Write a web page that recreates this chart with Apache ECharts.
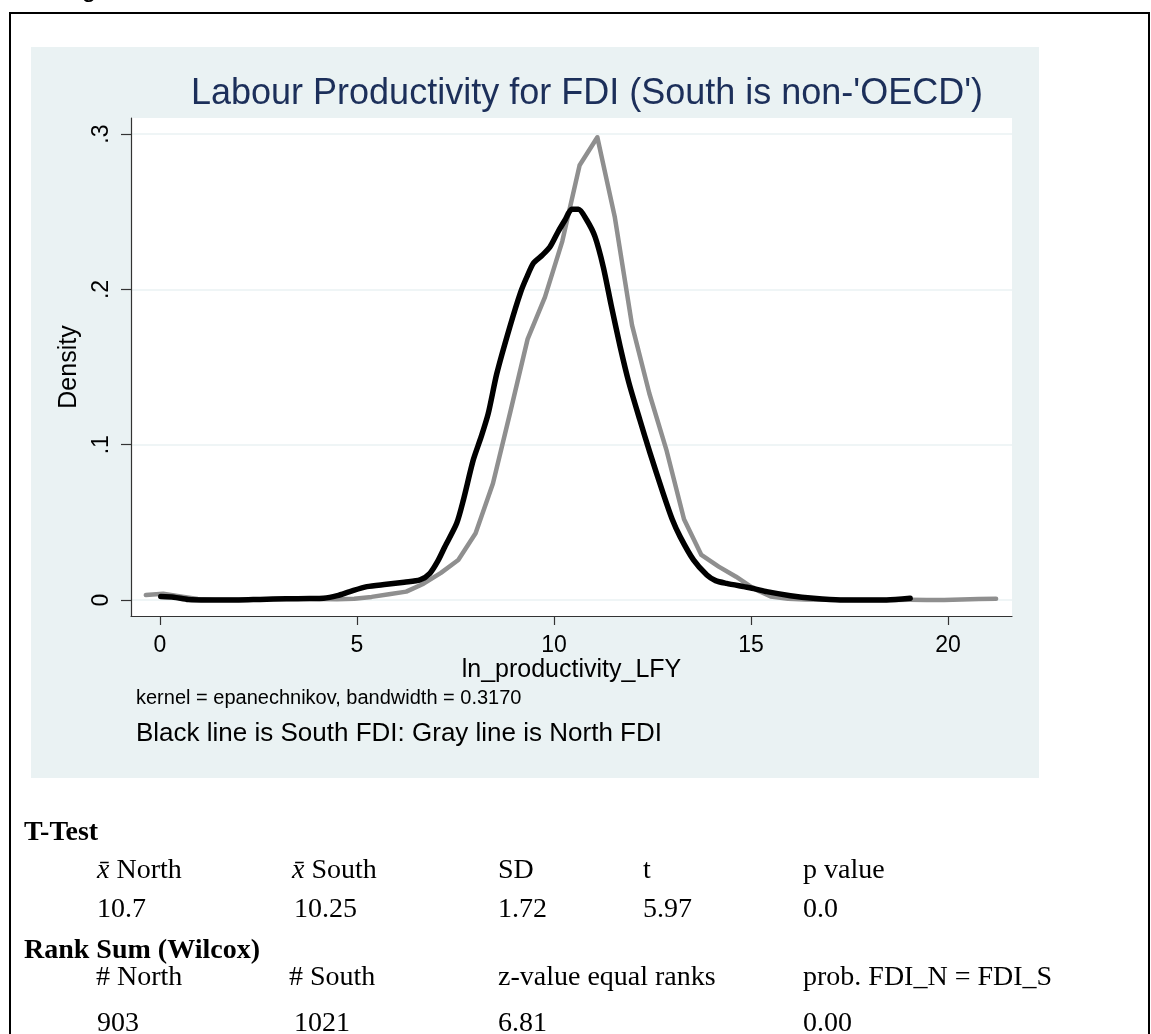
<!DOCTYPE html>
<html><head><meta charset="utf-8">
<style>html,body{margin:0;padding:0;background:#fff;}#c{width:1151px;height:1034px;}</style>
<script src="https://cdn.jsdelivr.net/npm/echarts@6/dist/echarts.min.js"></script>
</head><body><div id="c"></div>
<script>
// ---- data ----
var xTicks = [0, 5, 10, 15, 20];
var yTicks = [0, 0.1, 0.2, 0.3];
var yTickLabels = ['0', '.1', '.2', '.3'];

// Gray line: North FDI
var northX = [-0.36,0.08,0.52,0.96,1.40,1.84,2.28,2.72,3.16,3.60,4.05,4.49,4.93,5.37,5.81,6.25,6.69,7.13,7.57,8.01,8.45,8.89,9.33,9.77,10.21,10.65,11.10,11.54,11.98,12.42,12.86,13.30,13.74,14.18,14.62,15.06,15.50,15.94,16.38,16.82,17.26,17.70,18.14,18.58,19.02,19.46,19.90,20.34,20.78,21.22];
var northD = [0.0032,0.0040,0.0022,0.0006,0.0002,0.0001,0.0002,0.0005,0.0007,0.0008,0.0007,0.0005,0.0008,0.0020,0.0037,0.0054,0.0105,0.0175,0.0258,0.0430,0.0750,0.1210,0.1680,0.1950,0.2310,0.2800,0.2980,0.2470,0.1770,0.1330,0.0960,0.0520,0.0290,0.0215,0.0150,0.0075,0.0022,0.0008,0.0004,0.0002,0.0001,0.0000,0.0000,0.0000,0.0001,0.0000,0.0000,0.0003,0.0007,0.0008];

// Black line: South FDI
var southX = [0.02,0.35,0.72,1.2,2.0,2.54,3.2,3.8,4.15,4.5,4.82,5.25,5.75,6.2,6.6,6.85,7.05,7.23,7.53,7.70,7.95,8.15,8.33,8.55,8.88,9.15,9.31,9.48,9.7,9.9,10.1,10.28,10.45,10.62,10.83,11.04,11.25,11.45,11.68,11.9,12.18,12.44,12.77,13.0,13.2,13.54,13.88,14.1,14.38,14.81,15.1,15.4,16.0,16.58,17.26,18.44,19.04];
var southD = [0.0022,0.0018,0.0003,0.0,0.0,0.0004,0.0008,0.0009,0.0011,0.0028,0.0054,0.0086,0.0101,0.0115,0.0129,0.0172,0.025,0.0343,0.0494,0.0644,0.0901,0.105,0.12,0.146,0.176,0.198,0.208,0.217,0.222,0.2275,0.237,0.2447,0.2516,0.2516,0.2447,0.234,0.2146,0.19,0.163,0.14,0.1159,0.0944,0.0687,0.052,0.0408,0.0258,0.0161,0.0125,0.0107,0.0086,0.0072,0.0054,0.0028,0.0011,0.0,0.0,0.0011];

function zip(a, b) { var r = []; for (var i = 0; i < a.length; i++) r.push([a[i], b[i]]); return r; }

var SANS = "'Liberation Sans', Arial, Helvetica, sans-serif";
var SERIF = "'Liberation Serif', 'Times New Roman', serif";

function txt(x, y, text, size, opts) {
  opts = opts || {};
  return {
    type: 'text', x: x, y: y, z: 50, silent: true,
    style: {
      text: text, fontSize: size, fontFamily: opts.family || SANS,
      fontWeight: opts.weight || 'normal', fill: opts.color || '#000',
      align: opts.align || 'left', verticalAlign: 'middle',
      textAlign: opts.align || 'left', textVerticalAlign: 'middle',
      rich: opts.rich
    }
  };
}

var richI = { i: { fontStyle: 'italic', fontFamily: SERIF, fontSize: 28 } };
var c1 = 97, c2 = 292, c3 = 498, c4 = 643, c5 = 803;

var chart = echarts.init(document.getElementById('c'), null, { renderer: 'canvas' });
chart.setOption({
  animation: false,
  backgroundColor: '#ffffff',
  graphic: { elements: [
    { type: 'rect', z: -100, silent: true, shape: { x: 31, y: 47, width: 1008, height: 731 }, style: { fill: '#eaf2f3' } },
    { type: 'rect', z: 60, silent: true, shape: { x: 10, y: 13, width: 1139, height: 1040 }, style: { fill: null, stroke: '#000', lineWidth: 2 } },
    txt(60, -10.5, 'Figure', 26),
    txt(587, 94.5, "Labour Productivity for FDI (South is non-'OECD')", 36, { align: 'center', color: '#1c2f5a' }),
    txt(136, 698, 'kernel = epanechnikov, bandwidth = 0.3170', 20),
    txt(136, 734, 'Black line is South FDI: Gray line is North FDI', 26),
    txt(24, 832.5, 'T-Test', 28, { family: SERIF, weight: 'bold' }),
    txt(c1, 870.5, '{i|x\u0304} North', 28, { family: SERIF, rich: richI }),
    txt(c2, 870.5, '{i|x\u0304} South', 28, { family: SERIF, rich: richI }),
    txt(c3, 870.5, 'SD', 28, { family: SERIF }),
    txt(c4, 870.5, 't', 28, { family: SERIF }),
    txt(c5, 870.5, 'p value', 28, { family: SERIF }),
    txt(c1, 909.5, '10.7', 28, { family: SERIF }),
    txt(c2 + 2, 909.5, '10.25', 28, { family: SERIF }),
    txt(c3, 909.5, '1.72', 28, { family: SERIF }),
    txt(c4, 909.5, '5.97', 28, { family: SERIF }),
    txt(c5, 909.5, '0.0', 28, { family: SERIF }),
    txt(24, 950.5, 'Rank Sum (Wilcox)', 28, { family: SERIF, weight: 'bold' }),
    txt(c1 - 1, 977.5, '# North', 28, { family: SERIF }),
    txt(c2 - 3, 977.5, '# South', 28, { family: SERIF }),
    txt(c3, 977.5, 'z-value equal ranks', 28, { family: SERIF }),
    txt(c5, 977.5, 'prob. FDI_N = FDI_S', 28, { family: SERIF }),
    txt(c1, 1023.5, '903', 28, { family: SERIF }),
    txt(c2 + 2, 1023.5, '1021', 28, { family: SERIF }),
    txt(c3, 1023.5, '6.81', 28, { family: SERIF }),
    txt(c5, 1023.5, '0.00', 28, { family: SERIF })
  ]},
  grid: { left: 131, right: 139, top: 118, bottom: 418, show: true, backgroundColor: '#ffffff', borderWidth: 0 },
  xAxis: {
    type: 'value', min: -0.736, max: 21.624,
    name: 'ln_productivity_LFY', nameLocation: 'middle', nameGap: 41,
    nameTextStyle: { fontSize: 25, color: '#000', fontFamily: SANS },
    axisLine: { show: true, onZero: false, lineStyle: { color: '#333', width: 1.2 } },
    axisTick: { show: true, length: 9, customValues: xTicks, lineStyle: { color: '#333', width: 1.2 } },
    axisLabel: { customValues: xTicks, fontSize: 23, color: '#000', margin: 18, fontFamily: SANS },
    splitLine: { show: false }
  },
  yAxis: {
    type: 'value', min: -0.0103, max: 0.3104,
    name: 'Density', nameLocation: 'middle', nameGap: 40,
    nameTextStyle: { fontSize: 25, color: '#000', fontFamily: SANS },
    axisLine: { show: true, onZero: false, lineStyle: { color: '#333', width: 1.2 } },
    axisTick: { show: true, length: 10, customValues: yTicks, lineStyle: { color: '#333', width: 1.2 } },
    axisLabel: {
      customValues: yTicks, rotate: 90, fontSize: 23, color: '#000', margin: 18, fontFamily: SANS,
      formatter: function (v) { var i = yTicks.indexOf(Math.round(v * 10) / 10); return i >= 0 ? yTickLabels[i] : ''; }
    },
    splitLine: { show: true, lineStyle: { color: '#eaf2f3', width: 1.5 } }
  },
  series: [
    { name: 'North FDI', type: 'line', data: zip(northX, northD), showSymbol: false, smooth: false, clip: true,
      lineStyle: { color: '#8f8f8f', width: 4.5, cap: 'round', join: 'round' }, z: 2 },
    { name: 'South FDI', type: 'line', data: zip(southX, southD), showSymbol: false, smooth: 0.25, clip: true,
      lineStyle: { color: '#000000', width: 5.5, cap: 'round', join: 'round' }, z: 3 }
  ]
});
</script></body></html>
